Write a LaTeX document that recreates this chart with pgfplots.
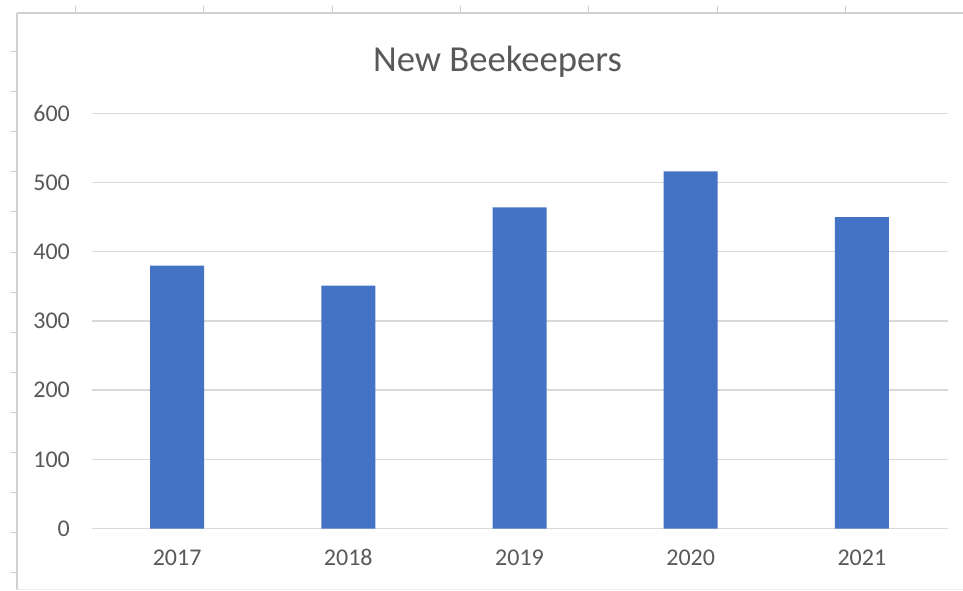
\documentclass[border=0pt]{standalone}
\usepackage{pgfplots}
\pgfplotsset{compat=1.18}
\usepackage{fontspec}
\setmainfont{Carlito}
\definecolor{barblue}{HTML}{4472C4}
\definecolor{txtgray}{HTML}{595959}
\definecolor{gridgray}{HTML}{D9D9D9}
\definecolor{framegray}{HTML}{D0D0D0}
\begin{document}
\begin{tikzpicture}
\begin{scope}[x=0.75pt,y=0.75pt]
\path[use as bounding box] (0,0) rectangle (963,590);
% spreadsheet frame
\draw[framegray,line width=1.5pt] (17,577) -- (963,577);
\draw[framegray,line width=1.5pt] (17,577) -- (17,0);
\draw[gridgray!50,line width=0.75pt] (17,1) -- (963,1);
\foreach \xx in {75,203,332,460,588,717,845} {\draw[framegray,line width=0.75pt] (\xx,577) -- (\xx,584);}
\foreach \yy in {52,92,132,172,212,252,292,332,372,412,452,492,532,572} {\draw[framegray,line width=0.75pt] (10,590-\yy) -- (17,590-\yy);}
\node[anchor=base,text=txtgray,font=\fontsize{27.5}{32}\selectfont,inner sep=0pt] at (497.5,518) {New Beekeepers};
\end{scope}
\begin{axis}[
  at={(68.625pt,46.125pt)}, anchor=south west,
  scale only axis,
  width=642pt, height=311.4pt,
  ymin=0, ymax=600,
  xmin=-0.5, xmax=4.5,
  ytick={0,100,...,600},
  xtick={0,1,2,3,4},
  xticklabels={2017,2018,2019,2020,2021},
  ymajorgrids,
  grid style={gridgray,line width=1pt},
  axis x line*=bottom,
  x axis line style={draw=gridgray,line width=1pt,-},
  axis y line*=left,
  y axis line style={draw=none},
  major tick length=0pt,
  tick style={draw=none},
  ticklabel style={text=txtgray,font=\fontsize{18}{20}\selectfont},
  /pgf/number format/assume math mode=true,
  yticklabel style={anchor=east,inner sep=0pt,xshift=-16pt},
  xticklabel style={anchor=base,inner sep=0pt,yshift=-28pt},
  clip=false,
]
\addplot[ybar,bar width=40.5pt,fill=barblue,draw=none] coordinates {(0,380) (1,351) (2,464) (3,516) (4,450)};
\end{axis}
\end{tikzpicture}
\end{document}
